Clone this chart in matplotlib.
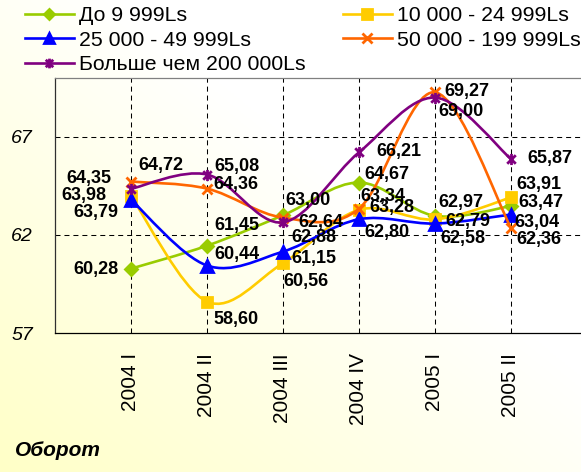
import numpy as np
import matplotlib.pyplot as plt
from matplotlib.path import Path
from matplotlib.patches import PathPatch
from matplotlib.lines import Line2D

plt.rcParams['font.family'] = ['Liberation Sans', 'DejaVu Sans']

quarters = ['2004 I', '2004 II', '2004 III', '2004 IV', '2005 I', '2005 II']
names = ['До 9 999Ls', '10 000 - 24 999Ls', '25 000 - 49 999Ls',
         '50 000 - 199 999Ls', 'Больше чем 200 000Ls']
upto_10k = [60.28, 61.45, 63.00, 64.67, 62.97, 63.47]
from_10k = [63.98, 58.60, 60.56, 63.28, 62.79, 63.91]
from_25k = [63.79, 60.44, 61.15, 62.80, 62.58, 63.04]
from_50k = [64.72, 64.36, 62.88, 63.34, 69.27, 62.36]
over_200k = [64.35, 65.08, 62.64, 66.21, 69.00, 65.87]
series = [upto_10k, from_10k, from_25k, from_50k, over_200k]

# styles
colors = ['#99CC00', '#FFCC00', '#0000FF', '#FF6600', '#800080']
star = Path([(-1, -1), (1, 1), (-1, 1), (1, -1), (0, -1.3), (0, 1.3)],
            [Path.MOVETO, Path.LINETO, Path.MOVETO, Path.LINETO, Path.MOVETO, Path.LINETO])
markers = ['D', 's', '^', 'x', star]
msizes = [6.5, 7.5, 8, 7.5, 8]

# label offsets in pixels (right, up) from each point
offsets = [
    [(-58, -1), (7, 20), (2, 15), (5, 8), (3, 13), (7, 4)],
    [(-70, 1), (6, -18), (0, -18), (10, 2), (10, -2), (5, 13)],
    [(-58, -13), (7, 11), (8, -7), (5, -13), (5, -15), (3, -8)],
    [(7, 16), (6, 4), (8, -20), (1, 12), (9, 1), (5, -12)],
    [(-65, 10), (7, 8), (15, 0), (17, 1), (3, -14), (16, 1)],
]

W, H = 581, 472
fig = plt.figure(figsize=(W / 100, H / 100), dpi=100)

# background gradient
bg = fig.add_axes([0, 0, 1, 1], zorder=-10)
gx, gy = np.meshgrid(np.linspace(0, 1, 200), np.linspace(1, 0, 200))
w = np.clip((gx + gy) / 1.2, 0, 1)
img = np.dstack([np.ones_like(w), np.ones_like(w), 0.78 + 0.22 * w])
bg.imshow(img, aspect='auto', extent=[0, 1, 0, 1])
bg.axis('off')

ax = fig.add_axes([55 / W, (H - 333) / H, 532 / W, 255 / H])
ax.set_facecolor('none')
ax.set_xlim(-1, 6)
ax.set_ylim(57, 70)

x = np.arange(len(quarters))


def smooth_path(xs, ys):
    pts = np.column_stack([xs, ys])
    verts = [pts[0]]
    codes = [Path.MOVETO]
    n = len(pts)
    for i in range(n - 1):
        p0 = pts[max(i - 1, 0)]
        p1 = pts[i]
        p2 = pts[i + 1]
        p3 = pts[min(i + 2, n - 1)]
        verts += [p1 + (p2 - p0) / 6, p2 - (p3 - p1) / 6, p2]
        codes += [Path.CURVE4] * 3
    return Path(verts, codes)


for i, (vals, c) in enumerate(zip(series, colors)):
    ax.add_patch(PathPatch(smooth_path(x, vals), fill=False, edgecolor=c,
                           lw=1.9, zorder=3 + i))
    ax.plot(x, vals, ls='none', marker=markers[i], ms=msizes[i], color=c,
            mec=c, mew=2, zorder=3 + i)

for vals, offs in zip(series, offsets):
    for xi, v, (dx, dy) in zip(x, vals, offs):
        ax.annotate(f'{v:.2f}'.replace('.', ','), (xi, v), xytext=(dx, dy),
                    textcoords='offset pixels', ha='left', va='center',
                    fontsize=13, fontweight='bold', zorder=20)

ax.set_xticks(x)
ax.set_xticklabels(quarters, rotation=90, fontsize=15)
ax.set_yticks([57, 62, 67])
ax.set_yticklabels(['57', '62', '67'], fontsize=14, fontstyle='italic')
ax.tick_params(axis='x', length=0, pad=14.4)
ax.tick_params(axis='y', length=0, pad=15.8)
for xi in x:
    ax.axvline(xi, color='black', lw=0.75, ls=(0, (4.8, 3.8)), zorder=1)
for yv in [62, 67]:
    ax.axhline(yv, color='black', lw=0.75, ls=(0, (4.8, 3.8)), zorder=1)

ax.spines['top'].set_color('#808080')
ax.spines['left'].set_color('#303030')
ax.spines['bottom'].set_color('black')
ax.spines['right'].set_visible(False)
for s in ['top', 'left', 'bottom']:
    ax.spines[s].set_linewidth(0.9)

handles = [Line2D([], [], color=c, lw=1.9, marker=m, ms=ms - 1, mec=c, mew=2)
           for c, m, ms in zip(colors, markers, msizes)]
order = [0, 2, 4, 1, 3]
fig.legend([handles[k] for k in order], [names[k] for k in order],
           ncol=2, loc='upper left', bbox_to_anchor=(25 / W, 1 - 6 / H),
           frameon=False, fontsize=15.3, borderpad=0, borderaxespad=0,
           handlelength=2.3, handletextpad=0.24, labelspacing=0.26,
           columnspacing=1.75)

fig.text(15 / W, 1 - 450 / H, 'Оборот', fontsize=15, fontweight='bold',
         fontstyle='italic', va='center', ha='left')

fig.savefig('out.png', dpi=100)
